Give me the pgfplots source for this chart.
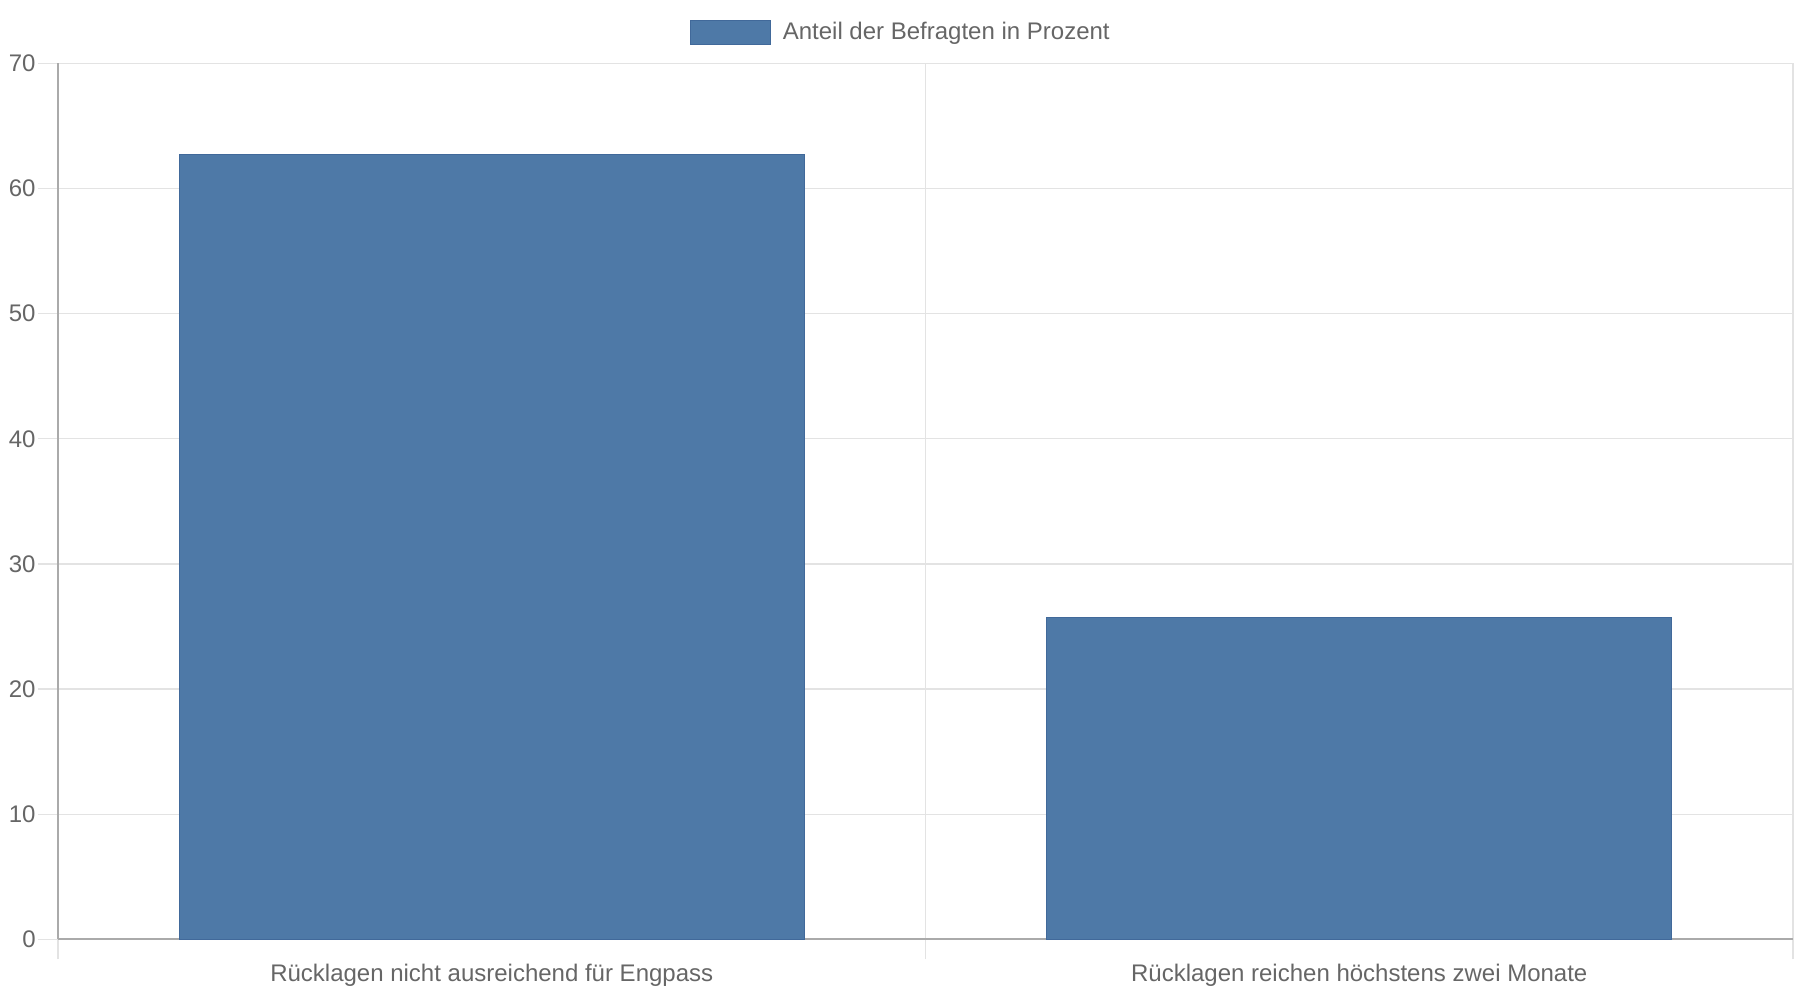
\documentclass[border=0pt]{standalone}
\usepackage{fontspec}
\setmainfont{Liberation Sans}
\usepackage{pgfplots}
\pgfplotsset{compat=1.18}
\definecolor{barfill}{HTML}{4E79A7}
\definecolor{barborder}{HTML}{41699A}
\definecolor{txt}{HTML}{666666}
\definecolor{gridc}{HTML}{E3E3E3}
\definecolor{axisc}{HTML}{AAAAAA}
\begin{document}
\begin{tikzpicture}
\useasboundingbox (0,0) rectangle (900pt,500pt);
\begin{axis}[
  at={(29pt,30.3pt)}, anchor=south west,
  scale only axis, width=867.5pt, height=438pt,
  xmin=-0.5, xmax=1.5, ymin=0, ymax=70,
  axis x line*=bottom, axis y line*=left,
  axis line style={draw=axisc, line width=1pt},
  xtick={-0.5,0.5,1.5},
  xticklabels={},
  xmajorgrids,
  extra x ticks={0,1},
  extra x tick labels={Rücklagen nicht ausreichend für Engpass, Rücklagen reichen höchstens zwei Monate},
  extra x tick style={grid=none, major tick length=0pt, tick style={draw=none}},
  ytick={0,10,...,70},
  ymajorgrids,
  grid style={draw=gridc, line width=0.65pt},
  tick style={draw=gridc, line width=0.65pt},
  major tick length=10pt, tick align=outside,
  tick label style={font=\fontsize{12pt}{14pt}\selectfont, text=txt},
  /pgf/number format/assume math mode=true,
  yticklabel style={anchor=east, inner sep=0pt, xshift=-1pt},
  xticklabel style={anchor=base, inner sep=0pt, yshift=-21.3pt},
  legend style={at={(0.5,1)}, anchor=center, xshift=-11.9pt, yshift=15.5pt, draw=none, fill=none,
    font=\fontsize{12pt}{14pt}\selectfont, text=txt, inner sep=0pt},
  legend image code/.code={\path[draw=none, fill=none] (0pt,0pt) -- (44.3pt,0pt); \fill[barfill, draw=barborder, line width=0.5pt] (0pt,-6pt) rectangle (40pt,6pt);},
  clip=false,
]
\addplot[ybar, bar width=0.72, fill=barfill, draw=barborder, line width=0.5pt]
  coordinates {(0,62.7) (1,25.7)};
\addlegendentry{Anteil der Befragten in Prozent}
\end{axis}
\end{tikzpicture}
\end{document}
